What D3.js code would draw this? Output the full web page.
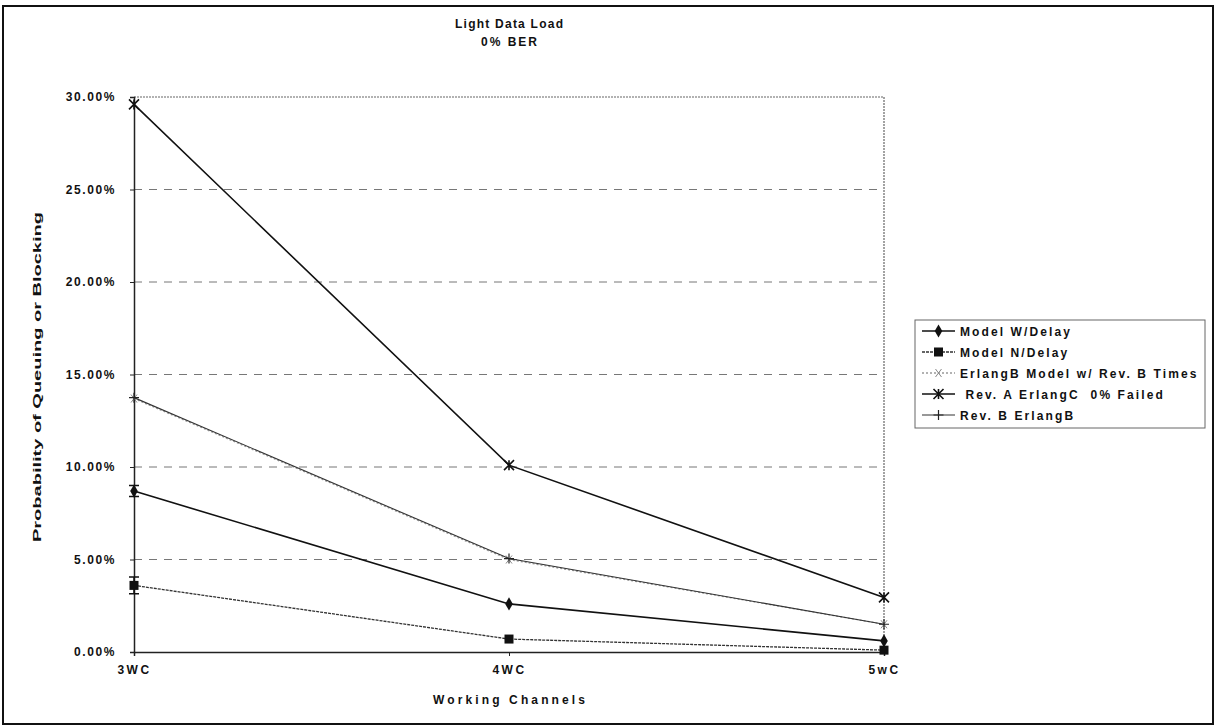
<!DOCTYPE html>
<html>
<head>
<meta charset="utf-8">
<script src="https://cdn.jsdelivr.net/npm/d3@7"></script>
<style>
body { margin: 0; background: #fff; }
text { font-family: "Liberation Sans", Arial, sans-serif; font-weight: bold; fill: #111; }
</style>
</head>
<body>
<div id="chart"></div>
<script>
// chart data
var categories = ["3WC", "4WC", "5wC"];
var modelWDelay = [8.7, 2.6, 0.6];
var modelNDelay = [3.6, 0.7, 0.1];
var erlangBModel = [13.7, 5.0, 1.5];
var revAErlangC = [29.6, 10.1, 2.95];
var revBErlangB = [13.75, 5.05, 1.5];
var errWDelay = [0.3, 0, 0];
var errNDelay = [0.45, 0, 0];
var yTicks = [0, 5, 10, 15, 20, 25, 30];
var seriesNames = ["Model W/Delay", "Model N/Delay", "ErlangB Model w/ Rev. B Times", " Rev. A ErlangC  0% Failed", "Rev. B ErlangB"];

var width = 1219, height = 726;
var margin = {left: 134, right: 884, top: 97, bottom: 652};

var svg = d3.select("#chart").append("svg")
    .attr("width", width)
    .attr("height", height);

// outer frame
svg.append("rect")
    .attr("x", 3).attr("y", 6)
    .attr("width", 1210).attr("height", 718)
    .attr("fill", "none").attr("stroke", "#111").attr("stroke-width", 2);

var x = d3.scalePoint().domain(categories).range([margin.left, margin.right]);
var y = d3.scaleLinear().domain([0, 30]).range([margin.bottom, margin.top]);

// gridlines
svg.append("g").selectAll("line")
    .data(yTicks.filter(function(d){ return d > 0 && d < 30; }))
    .enter().append("line")
    .attr("x1", margin.left).attr("x2", margin.right)
    .attr("y1", function(d){ return y(d); })
    .attr("y2", function(d){ return y(d); })
    .attr("stroke", "#777").attr("stroke-width", 1)
    .attr("stroke-dasharray", "8,7");

// plot border top/right dotted
svg.append("path")
    .attr("d", "M" + margin.left + "," + y(30) + "H" + margin.right + "V" + margin.bottom)
    .attr("fill", "none").attr("stroke", "#666").attr("stroke-width", 1.2)
    .attr("stroke-dasharray", "2,1");

// axes
var yAxis = d3.axisLeft(y).tickValues(yTicks).tickSize(4).tickPadding(14)
    .tickFormat(function(d){ return d.toFixed(2) + "%"; });
var gy = svg.append("g").attr("transform", "translate(" + margin.left + ",0)").call(yAxis);
var xAxis = d3.axisBottom(x).tickSize(4).tickPadding(14);
var gx = svg.append("g").attr("transform", "translate(0," + margin.bottom + ")").call(xAxis);
[gx, gy].forEach(function(g){
  g.select(".domain").attr("stroke", "#222").attr("stroke-width", 1.5);
  g.selectAll(".tick line").attr("stroke", "#222");
  g.selectAll("text").attr("font-size", 12).attr("font-family", "Liberation Sans, Arial").attr("font-weight", "bold").attr("fill", "#111").style("letter-spacing", "1.6px");
});
gx.selectAll("text").attr("dy", "0.3em").style("letter-spacing", "2.5px");

// titles
svg.append("text").attr("x", 509).attr("y", 28).attr("text-anchor", "middle")
    .attr("font-size", 12).attr("textLength", 108).attr("lengthAdjust", "spacing").text("Light Data Load");
svg.append("text").attr("x", 509).attr("y", 46).attr("text-anchor", "middle")
    .attr("font-size", 12).attr("textLength", 56).attr("lengthAdjust", "spacing").text("0% BER");
svg.append("text").attr("x", 509).attr("y", 704).attr("text-anchor", "middle")
    .attr("font-size", 12).attr("textLength", 152).attr("lengthAdjust", "spacing").text("Working Channels");
svg.append("text").attr("transform", "translate(41,377) rotate(-90)").attr("text-anchor", "middle")
    .attr("font-size", 11).attr("textLength", 330).attr("lengthAdjust", "spacingAndGlyphs").text("Probability of Queuing or Blocking");

var series = [
  {name: seriesNames[0], values: modelWDelay, err: errWDelay, stroke: "#111", width: 1.6, dash: null, marker: "diamond"},
  {name: seriesNames[1], values: modelNDelay, err: errNDelay, stroke: "#333", width: 1.3, dash: "3,1", marker: "square"},
  {name: seriesNames[2], values: erlangBModel, err: null, stroke: "#999", width: 1.3, dash: "2,2", marker: "xsmall"},
  {name: seriesNames[3], values: revAErlangC, err: null, stroke: "#111", width: 1.6, dash: null, marker: "asterisk"},
  {name: seriesNames[4], values: revBErlangB, err: null, stroke: "#333", width: 1.1, dash: null, marker: "plus"}
];

var line = d3.line()
    .x(function(d, i){ return x(categories[i]); })
    .y(function(d){ return y(d); });

function drawMarker(g, type, cx, cy) {
  if (type === "diamond") {
    g.append("path").attr("d", d3.symbol().type(d3.symbolDiamond).size(50)())
      .attr("transform", "translate(" + cx + "," + cy + ")").attr("fill", "#111");
  } else if (type === "square") {
    g.append("rect").attr("x", cx - 4.5).attr("y", cy - 4.5).attr("width", 9).attr("height", 9).attr("fill", "#111");
  } else if (type === "asterisk") {
    g.append("path").attr("d", "M-5,-5L5,5M-5,5L5,-5M0,-5V5")
      .attr("transform", "translate(" + cx + "," + cy + ")").attr("stroke", "#111").attr("stroke-width", 1.6);
  } else if (type === "plus") {
    g.append("path").attr("d", "M-5,0H5M0,-5V5")
      .attr("transform", "translate(" + cx + "," + cy + ")").attr("stroke", "#222").attr("stroke-width", 1.2);
  } else if (type === "xsmall") {
    g.append("path").attr("d", "M-3,-4L3,4M-3,4L3,-4")
      .attr("transform", "translate(" + cx + "," + cy + ")").attr("stroke", "#888").attr("stroke-width", 1);
  }
}

var plot = svg.append("g");
series.forEach(function(s){
  plot.append("path").attr("d", line(s.values))
    .attr("fill", "none").attr("stroke", s.stroke).attr("stroke-width", s.width)
    .attr("stroke-dasharray", s.dash);
  s.values.forEach(function(v, i){
    var cx = x(categories[i]), cy = y(v);
    if (s.err && s.err[i] > 0) {
      var y1 = y(v + s.err[i]), y2 = y(v - s.err[i]);
      plot.append("path").attr("d", "M" + cx + "," + y1 + "V" + y2 + "M" + (cx - 5) + "," + y1 + "H" + (cx + 5) + "M" + (cx - 5) + "," + y2 + "H" + (cx + 5))
        .attr("stroke", "#111").attr("stroke-width", 1.5).attr("fill", "none");
    }
    drawMarker(plot, s.marker, cx, cy);
  });
});

// legend
var lg = svg.append("g").attr("transform", "translate(915,320)");
lg.append("rect").attr("width", 290).attr("height", 108)
  .attr("fill", "#fff").attr("stroke", "#666").attr("stroke-width", 1);
series.forEach(function(s, i){
  var ly = 11 + i * 21;
  lg.append("line").attr("x1", 7).attr("x2", 40).attr("y1", ly).attr("y2", ly)
    .attr("stroke", s.stroke).attr("stroke-width", s.width).attr("stroke-dasharray", s.dash);
  drawMarker(lg, s.marker, 23.5, ly);
  lg.append("text").attr("x", 45).attr("y", ly + 4.5).attr("font-size", 12)
    .style("letter-spacing", "2.1px").style("white-space", "pre").text(s.name);
});
</script>
</body>
</html>
